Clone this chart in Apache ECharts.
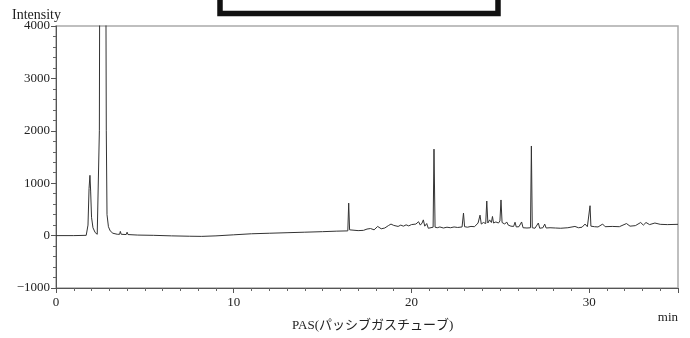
<!DOCTYPE html>
<html>
<head>
<meta charset="utf-8">
<script src="https://cdn.jsdelivr.net/npm/echarts@6/dist/echarts.min.js"></script>
<style>
  html, body { margin: 0; padding: 0; background: #fff; }
  #chart { width: 690px; height: 338px; }
</style>
</head>
<body>
<div id="chart"></div>
<script>
// retention time (min) and detector response
const times = [
  0, 1.0, 1.7, 1.8, 1.86, 1.91, 1.95, 2.0, 2.08, 2.2, 2.32, 2.4, 2.44, 2.48, 2.78, 2.83, 2.87, 2.95,
  3.05, 3.2, 3.45, 3.58, 3.62, 3.67, 3.95, 4.0, 4.05, 4.6, 5.5, 6.5, 7.5, 8.2, 9.0, 10.0, 11.0, 12.0,
  13.0, 14.0, 15.0, 15.8, 16.42, 16.47, 16.52, 16.6, 17.0, 17.3, 17.5, 17.7, 17.9, 18.1, 18.3, 18.5,
  18.7, 18.85, 19.0, 19.1, 19.25, 19.4, 19.55, 19.7, 19.85, 20.0, 20.1, 20.25, 20.4, 20.5, 20.6, 20.67,
  20.75, 20.86, 20.95, 21.05, 21.22, 21.27, 21.33, 21.45, 21.6, 21.8, 22.0, 22.2, 22.4, 22.6, 22.85,
  22.93, 22.99, 23.15, 23.35, 23.55, 23.75, 23.86, 23.93, 24.05, 24.18, 24.24, 24.3, 24.4, 24.5, 24.56,
  24.62, 24.75, 24.9, 24.98, 25.04, 25.1, 25.25, 25.36, 25.45, 25.6, 25.75, 25.83, 25.9, 26.05, 26.2,
  26.28, 26.5, 26.7, 26.75, 26.8, 26.95, 27.14, 27.22, 27.4, 27.5, 27.58, 27.8, 28.1, 28.4, 28.8, 29.2,
  29.4, 29.6, 29.77, 29.9, 30.0, 30.05, 30.1, 30.3, 30.5, 30.76, 30.9, 31.3, 31.7, 32.1, 32.3, 32.6,
  32.9, 33.05, 33.2, 33.4, 33.7, 34.0, 34.4, 35.0
];
const intensity = [
  0, 0, 5, 200, 900, 1150, 850, 350, 150, 60, 25, 60, 2000, 8000, 8000, 2000, 400, 170,
  90, 45, 25, 25, 80, 25, 20, 65, 20, 10, 5, -5, -12, -15, -5, 15, 35, 45,
  55, 65, 75, 85, 90, 620, 110, 95, 95, 100, 125, 135, 110, 175, 130, 145,
  190, 220, 195, 215, 175, 200, 180, 205, 185, 210, 180, 220, 265, 200, 240, 300,
  180, 230, 140, 170, 160, 1650, 160, 150, 165, 145, 160, 150, 165, 155, 165,
  430, 170, 160, 175, 170, 240, 390, 220, 250, 230, 660, 240, 300, 250, 365,
  240, 260, 240, 280, 680, 250, 220, 260, 200, 180, 175, 255, 165, 170, 260,
  150, 145, 150, 1710, 150, 140, 240, 140, 150, 220, 145, 150, 145, 140, 150, 175,
  150, 160, 220, 170, 180, 570, 180, 170, 165, 220, 170, 175, 170, 230, 180, 190,
  250, 200, 250, 210, 240, 215, 210, 215
];

const xMin = 0, xMax = 35, xStep = 10;
const yMin = -1000, yMax = 4000, yStep = 1000;

const chart = echarts.init(document.getElementById('chart'));
const serif = "'Liberation Serif', 'DejaVu Serif', serif";

const option = {
  animation: false,
  backgroundColor: '#fff',
  grid: {
    left: 56, right: 12, top: 26, bottom: 50,
    show: true, borderColor: '#aaa', borderWidth: 1.5
  },
  xAxis: {
    type: 'value',
    min: xMin, max: xMax, interval: xStep,
    axisLine: { onZero: false, lineStyle: { color: '#555', width: 1 } },
    axisTick: { length: 5, lineStyle: { color: '#555' } },
    minorTick: { show: true, splitNumber: 10, length: 3, lineStyle: { color: '#666' } },
    splitLine: { show: false },
    axisLabel: {
      color: '#222', fontFamily: serif, fontSize: 13, margin: 8,
      formatter: v => (v === xMax ? '' : String(v))
    }
  },
  yAxis: {
    type: 'value',
    min: yMin, max: yMax, interval: yStep,
    axisLine: { onZero: false, lineStyle: { color: '#555', width: 1 } },
    axisTick: { length: 5, lineStyle: { color: '#555' } },
    minorTick: { show: true, splitNumber: 5, length: 3, lineStyle: { color: '#666' } },
    splitLine: { show: false },
    axisLabel: {
      color: '#222', fontFamily: serif, fontSize: 13, margin: 6,
      formatter: v => String(v).replace('-', '\u2212')
    }
  },
  series: [{
    type: 'line',
    data: times.map((t, i) => [t, intensity[i]]),
    showSymbol: false,
    clip: true,
    lineStyle: { color: '#333', width: 1 }
  }],
  graphic: [
    {
      type: 'text', left: 12, top: 8,
      style: { text: 'Intensity', font: "14px 'Liberation Serif'", fill: '#222' }
    },
    {
      type: 'text', right: 12, top: 311,
      style: { text: 'min', font: "13px 'Liberation Serif'", fill: '#222' }
    },
    {
      type: 'text', left: 292, top: 319,
      style: {
        text: 'PAS(パッシブガスチューブ)',
        font: "13px 'Liberation Serif', 'Noto Sans CJK JP'", fill: '#222'
      }
    },
    {
      type: 'rect',
      shape: { x: 220, y: -20, width: 278, height: 33.5 },
      style: { fill: '#fff', stroke: '#111', lineWidth: 5.5 }
    }
  ]
};
chart.setOption(option);
</script>
</body>
</html>
